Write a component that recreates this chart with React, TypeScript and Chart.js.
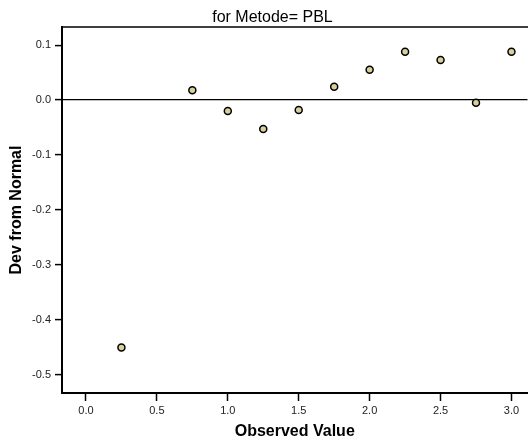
import React, { useEffect, useRef } from "react";
import { Chart, registerables } from "chart.js";

Chart.register(...registerables);

const chartTitle = "for Metode= PBL";
const xAxisTitle = "Observed Value";
const yAxisTitle = "Dev from Normal";
const observed = [0.25, 0.75, 1.0, 1.25, 1.5, 1.75, 2.0, 2.25, 2.5, 2.75, 3.0];
const deviation = [-0.451, 0.018, -0.02, -0.053, -0.018, 0.024, 0.055, 0.088, 0.073, -0.005, 0.088];
const xTicks = [0.0, 0.5, 1.0, 1.5, 2.0, 2.5, 3.0];
const yTicks = [0.1, 0.0, -0.1, -0.2, -0.3, -0.4, -0.5];

const frame = {
  id: "frame",
  afterDraw(chart: any) {
    const { ctx, chartArea } = chart;
    ctx.save();
    ctx.strokeStyle = "#000";
    ctx.lineWidth = 1.5;
    ctx.beginPath();
    ctx.moveTo(chartArea.left, chartArea.top);
    ctx.lineTo(chart.width, chartArea.top);
    ctx.stroke();
    ctx.fillStyle = "#000";
    ctx.font = "16px 'Liberation Sans', Arial, sans-serif";
    ctx.textAlign = "center";
    ctx.textBaseline = "middle";
    ctx.fillText(chartTitle, 272.5, 18);
    ctx.restore();
  },
};

export default function App() {
  const ref = useRef<HTMLCanvasElement>(null);
  useEffect(() => {
    document.body.style.margin = "0";
    Chart.defaults.font.family = "'Liberation Sans', Arial, sans-serif";
    const chart = new Chart(ref.current!, {
      type: "scatter",
      data: {
        datasets: [
          {
            data: observed.map((x, i) => ({ x, y: deviation[i] })),
            backgroundColor: "#d8d09a",
            borderColor: "#000",
            borderWidth: 1.5,
            pointRadius: 3.5,
          },
        ],
      },
      options: {
        animation: false,
        responsive: false,
        maintainAspectRatio: false,
        layout: { padding: { top: 27, right: 0, bottom: 0, left: 0 } },
        plugins: { legend: { display: false }, tooltip: { enabled: false }, title: { display: false } },
        scales: {
          x: {
            type: "linear",
            min: -0.169,
            max: 3.113,
            afterBuildTicks: (s: any) => {
              s.ticks = xTicks.map((v) => ({ value: v }));
            },
            afterFit: (s: any) => {
              s.height = 53;
            },
            ticks: {
              color: "#222",
              font: { size: 11 },
              padding: 3,
              maxRotation: 0,
              callback: (v: any) => Number(v).toFixed(1),
            },
            grid: { drawOnChartArea: false, tickColor: "#000", tickLength: 8, tickWidth: 1.5 },
            border: { color: "#000", width: 2 },
            title: {
              display: true,
              text: xAxisTitle,
              color: "#000",
              font: { size: 16, weight: "bold" },
              padding: { top: 0, bottom: 5 },
            },
          },
          y: {
            type: "linear",
            min: -0.5337,
            max: 0.133,
            afterBuildTicks: (s: any) => {
              s.ticks = yTicks.map((v) => ({ value: v }));
            },
            afterFit: (s: any) => {
              s.width = 62;
            },
            ticks: {
              color: "#222",
              font: { size: 11 },
              padding: 4,
              callback: (v: any) => Number(v).toFixed(1),
            },
            grid: {
              drawOnChartArea: true,
              color: (c: any) => (c.tick && Math.abs(c.tick.value) < 1e-9 ? "#000" : "rgba(0,0,0,0)"),
              lineWidth: 1.2,
              tickColor: "#000",
              tickLength: 7,
              tickWidth: 1.5,
            },
            border: { color: "#000", width: 2 },
            title: {
              display: true,
              text: yAxisTitle,
              color: "#000",
              font: { size: 16, weight: "bold" },
              padding: { top: 7, bottom: 0 },
            },
          },
        },
      },
      plugins: [frame],
    } as any);
    return () => chart.destroy();
  }, []);
  return (
    <div style={{ position: "fixed", left: 0, top: 0, width: 528, height: 446, overflow: "hidden" }}>
      <canvas ref={ref} width={533} height={446} style={{ width: 533, height: 446 }} />
    </div>
  );
}
